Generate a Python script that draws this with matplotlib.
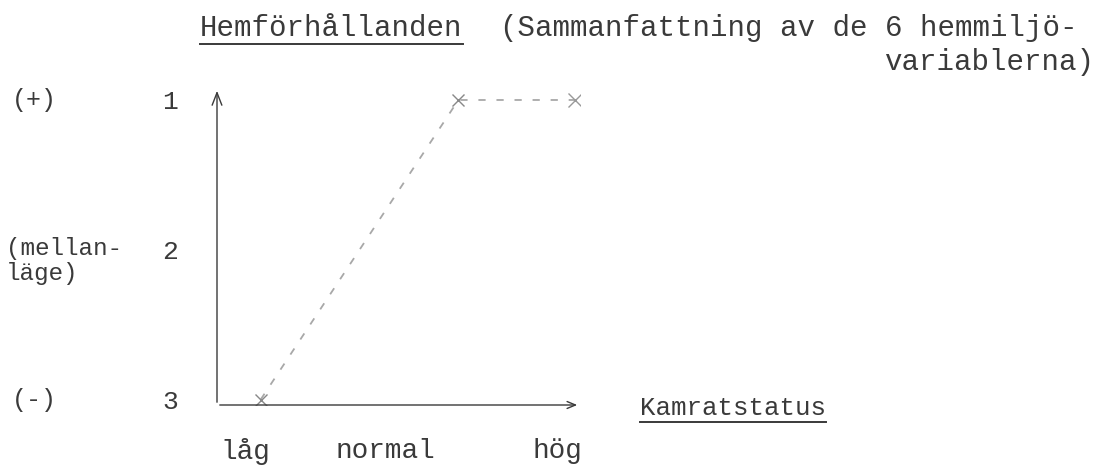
import matplotlib.pyplot as plt
import numpy as np

# Kamratstatus (horizontal position along axis) and Hemförhållanden score
status_pos = [0.12, 0.665, 0.985]
hem_score = [3, 1, 1]

x_tick_pos = [0.077, 0.463, 0.937]
x_tick_labels = ["låg", "normal", "hög"]
y_ticks = [1, 2, 3]
y_side_labels = ["(+)", "(mellan-\nläge)", "(-)"]

W, H = 1100, 465
plt.rcParams['font.family'] = ['Liberation Mono', 'DejaVu Serif']
ink = '#3a3a3a'
pale = '#a8a8a8'

fig = plt.figure(figsize=(W / 100, H / 100), dpi=100)
ax = fig.add_axes([217 / W, (H - 405) / H, (580 - 217) / W, (405 - 88) / H])
ax.set_xlim(0, 1)
ax.set_ylim(3.035, 0.92)
for s in ax.spines.values():
    s.set_visible(False)

# axes drawn as arrows
ax.annotate('', xy=(0, 1), xytext=(0, 0), xycoords='axes fraction',
            arrowprops=dict(arrowstyle='->,head_length=0.9,head_width=0.35', color=ink, lw=1.0))
ax.annotate('', xy=(1, 0), xytext=(0, 0), xycoords='axes fraction',
            arrowprops=dict(arrowstyle='->,head_length=0.6,head_width=0.25', color=ink, lw=1.0))

# the curve: dashed, faint
ax.plot(status_pos, hem_score, ls=(0, (4, 6)), color=pale, lw=1.3)
ax.plot(status_pos[:2], hem_score[:2], 'x', color='#888888', ms=8, mew=1.0)
ax.plot(status_pos[2:], hem_score[2:], 'x', color='#999999', ms=10, mew=1.0)

ax.set_xticks(x_tick_pos)
ax.set_xticklabels(x_tick_labels)
ax.set_yticks(y_ticks)
ax.set_yticklabels([str(v) for v in y_ticks])
ax.tick_params(axis='x', length=0, pad=24, labelsize=20, labelcolor=ink)
ax.tick_params(axis='y', length=0, pad=28, labelsize=19, labelcolor=ink)

# labels left of the numbers
for v, lab in zip(y_ticks, y_side_labels):
    ya = ax.transData.transform((0, v))[1] / H
    if '\n' in lab:
        fig.text(6 / W, ya + 0.028, lab, ha='left', va='top', fontsize=17.5,
                 color=ink, linespacing=1.1)
    else:
        fig.text(12 / W, ya, lab, ha='left', va='center', fontsize=18, color=ink)

t1 = fig.text(200 / W, 1 - 28 / H, "Hemförhållanden", ha='left', va='center',
              fontsize=21, color=ink)
fig.text(500 / W, 1 - 28 / H, "(Sammanfattning av de 6 hemmiljö-", ha='left',
         va='center', fontsize=21, color=ink)
fig.text(1094 / W, 1 - 62 / H, "variablerna)", ha='right', va='center',
         fontsize=21, color=ink)
t2 = fig.text(640 / W, 1 - 408 / H, "Kamratstatus", ha='left', va='center',
              fontsize=18.5, color=ink)

# underline the two axis names
fig.canvas.draw()
r = fig.canvas.get_renderer()
for t in (t1, t2):
    bb = t.get_window_extent(renderer=r)
    y0 = bb.y0 - 2
    fig.add_artist(plt.Line2D([bb.x0 / W, bb.x1 / W], [y0 / H, y0 / H],
                              color=ink, lw=1.4))

fig.savefig('out.png', dpi=100)
